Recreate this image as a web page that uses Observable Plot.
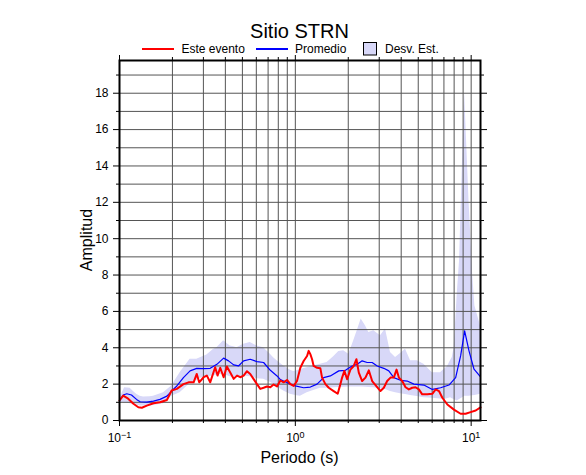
<!DOCTYPE html>
<html><head><meta charset="utf-8">
<script src="https://cdn.jsdelivr.net/npm/d3@7"></script>
<script src="https://cdn.jsdelivr.net/npm/@observablehq/plot@0.6"></script>
<style>
body{margin:0;background:#fff}
#chart{width:586px;height:475px}
</style></head>
<body><div id="chart"></div>
<script>
// Este evento (period s, amplitude)
const esteEvento = [[0.100,1.1],[0.105,1.37],[0.112,1.2],[0.120,0.92],[0.128,0.73],[0.134,0.7],[0.143,0.82],[0.156,0.95],[0.170,1.0],[0.186,1.13],[0.198,1.65],[0.212,1.74],[0.231,2.0],[0.247,2.1],[0.264,2.1],[0.275,2.56],[0.284,2.1],[0.301,2.38],[0.314,2.47],[0.328,2.1],[0.350,2.93],[0.361,2.47],[0.374,2.9],[0.391,2.38],[0.408,2.97],[0.431,2.56],[0.446,2.29],[0.466,2.47],[0.486,2.38],[0.508,2.47],[0.531,2.71],[0.554,2.56],[0.578,2.29],[0.605,2.0],[0.632,1.74],[0.660,1.8],[0.690,1.87],[0.721,1.83],[0.752,1.98],[0.787,1.87],[0.822,2.2],[0.858,2.1],[0.897,2.23],[0.937,2.0],[0.978,1.9],[1.022,2.17],[1.068,2.9],[1.115,3.27],[1.166,3.55],[1.191,3.83],[1.217,3.65],[1.245,3.37],[1.271,3.0],[1.329,2.9],[1.388,2.87],[1.419,2.36],[1.483,2.0],[1.549,1.8],[1.652,1.62],[1.742,1.47],[1.804,2.0],[1.845,2.36],[1.901,2.73],[1.970,2.27],[2.057,2.8],[2.149,3.0],[2.226,3.37],[2.296,2.63],[2.399,2.17],[2.505,2.36],[2.617,2.76],[2.735,2.17],[2.857,1.95],[3.050,1.62],[3.186,1.8],[3.328,2.17],[3.477,2.36],[3.632,2.36],[3.763,2.8],[3.880,2.36],[4.053,2.17],[4.234,1.83],[4.423,1.71],[4.621,1.8],[4.827,1.83],[5.042,1.71],[5.267,1.44],[5.630,1.44],[6.014,1.47],[6.282,1.71],[6.562,1.62],[6.855,1.25],[7.32,0.88],[7.98,0.6],[8.71,0.37],[9.30,0.37],[9.93,0.46],[10.61,0.55],[11.3,0.72]];
// Promedio
const promedio = [[0.100,1.1],[0.105,1.4],[0.110,1.47],[0.117,1.4],[0.125,1.16],[0.131,1.03],[0.143,1.01],[0.156,1.07],[0.170,1.16],[0.186,1.34],[0.198,1.62],[0.212,1.9],[0.231,2.36],[0.252,2.73],[0.275,2.87],[0.301,2.85],[0.328,2.87],[0.358,3.09],[0.391,3.43],[0.417,3.28],[0.446,3.06],[0.475,3.0],[0.508,3.28],[0.554,3.37],[0.605,3.24],[0.660,3.19],[0.721,2.76],[0.787,2.45],[0.822,2.25],[0.858,2.17],[0.937,2.0],[1.0,1.9],[1.115,1.8],[1.217,1.84],[1.329,2.0],[1.449,2.36],[1.582,2.45],[1.766,2.73],[1.927,2.76],[2.103,3.0],[2.249,3.09],[2.399,3.28],[2.562,3.19],[2.735,3.19],[2.921,3.0],[3.186,2.87],[3.401,2.73],[3.632,2.36],[3.965,2.21],[4.328,2.17],[4.722,2.0],[5.385,1.95],[6.014,1.71],[6.70,1.8],[7.48,1.95],[8.16,2.36],[8.71,3.55],[9.18,4.93],[9.72,3.83],[10.38,2.82],[11.3,2.4]];
// Desv. Est. band: [period, lower, upper]
const desvEst = [[0.100,1.0,1.2],[0.107,0.98,1.8],[0.115,0.92,1.77],[0.120,0.88,1.6],[0.125,0.85,1.44],[0.131,0.8,1.33],[0.137,0.8,1.29],[0.149,0.8,1.3],[0.156,0.82,1.34],[0.178,0.92,1.53],[0.198,1.34,1.9],[0.221,1.53,2.63],[0.252,2.03,3.37],[0.275,2.2,3.37],[0.288,2.32,3.45],[0.314,2.4,3.6],[0.342,2.45,3.9],[0.358,2.5,4.0],[0.391,2.54,4.38],[0.426,2.4,4.1],[0.446,2.36,4.05],[0.466,2.4,4.0],[0.508,2.45,4.2],[0.554,2.4,4.29],[0.578,2.36,4.2],[0.605,2.3,4.1],[0.660,2.27,4.0],[0.721,2.1,3.65],[0.752,2.0,3.45],[0.787,1.85,3.28],[0.858,1.62,3.0],[0.937,1.45,2.76],[0.978,1.4,2.7],[1.022,1.36,2.73],[1.068,1.34,2.8],[1.166,1.53,2.9],[1.271,1.65,3.0],[1.388,1.77,3.1],[1.515,1.78,3.19],[1.652,1.8,3.5],[1.766,1.82,3.8],[1.884,1.83,3.83],[2.013,1.84,3.65],[2.149,1.84,4.38],[2.249,1.84,4.93],[2.368,1.84,5.58],[2.505,1.83,5.21],[2.617,1.82,4.84],[2.794,1.8,4.93],[3.05,1.75,4.66],[3.257,1.7,5.03],[3.477,1.6,3.74],[3.715,1.52,3.46],[3.965,1.47,3.68],[4.234,1.43,3.92],[4.521,1.38,3.28],[4.934,1.32,3.28],[5.385,1.25,3.09],[6.014,1.22,2.63],[6.70,1.18,2.63],[7.00,1.16,2.8],[7.32,1.2,2.95],[7.64,1.25,3.3],[7.81,1.2,3.46],[8.0,1.15,4.0],[8.34,1.07,7.0],[8.59,1.15,8.8],[8.93,1.25,14.3],[9.18,1.34,18.0],[9.72,1.34,12.1],[10.2,1.36,8.0],[10.5,1.38,6.3],[11.3,1.44,5.2]];

const xMajor = [0.1, 1, 10];
const xMinor = [0.2,0.3,0.4,0.5,0.6,0.7,0.8,0.9,2,3,4,5,6,7,8,9];
const xTickLabels = ["−1", "0", "1"];
const yMajor = [0,2,4,6,8,10,12,14,16,18];
const yMinor = [1,3,5,7,9,11,13,15,17,19];
const yGrid = [1,2,3,4,5,6,7,8,9,10,11,12,13,14,15,16,17,18,19];

const FONT = "'Liberation Sans', Arial, Helvetica, sans-serif";
const bandFill = "#d8d8f8";
const gridColor = "#555";
const empty = () => "";

const chart = Plot.plot({
  width: 586, height: 475,
  marginLeft: 119, marginRight: 106, marginTop: 60, marginBottom: 55,
  x: {type: "log", domain: [0.1, 11.3]},
  y: {domain: [0, 19.8]},
  style: {fontFamily: FONT, fontSize: "12px", color: "black", background: "white", overflow: "visible"},
  marks: [
    Plot.areaY(desvEst, {x: d => d[0], y1: d => d[1], y2: d => d[2], fill: bandFill}),
    Plot.ruleX(xMajor.concat(xMinor).filter(v => v > 0.1), {stroke: gridColor, strokeWidth: 1}),
    Plot.ruleY(yGrid, {stroke: gridColor, strokeWidth: 1}),
    Plot.line(promedio, {x: d => d[0], y: d => d[1], stroke: "#0000ff", strokeWidth: 1.2}),
    Plot.line(esteEvento, {x: d => d[0], y: d => d[1], stroke: "#ff0000", strokeWidth: 2}),
    Plot.frame({stroke: "black", strokeWidth: 2}),
    Plot.axisY({anchor: "left", ticks: yMajor, tickSize: 6, tickPadding: 5, label: null, fontSize: 12}),
    Plot.axisY({anchor: "left", ticks: yMinor, tickSize: 3, tickFormat: empty, label: null}),
    Plot.axisY({anchor: "right", ticks: yMajor, tickSize: 6, tickFormat: empty, label: null}),
    Plot.axisY({anchor: "right", ticks: yMinor, tickSize: 3, tickFormat: empty, label: null}),
    Plot.axisX({anchor: "bottom", ticks: xMajor, tickSize: 6, tickPadding: 7, label: null, fontSize: 12,
      tickFormat: (d, i) => "10" + xTickLabels[xMajor.indexOf(d)]}),
    Plot.axisX({anchor: "bottom", ticks: xMinor, tickSize: 3, tickFormat: empty, label: null}),
    Plot.axisX({anchor: "top", ticks: xMajor, tickSize: 6, tickFormat: empty, label: null}),
    Plot.axisX({anchor: "top", ticks: xMinor, tickSize: 4, tickFormat: empty, label: null})
  ]
});
document.getElementById("chart").appendChild(chart);

const svg = d3.select(chart.tagName.toLowerCase() === "svg" ? chart : chart.querySelector("svg"));

// superscript exponents on x tick labels
svg.selectAll('g[aria-label="x-axis tick label"] text').each(function() {
  const t = this.textContent;
  if (!t || !t.startsWith("10")) return;
  const exp = t.slice(2);
  const sel = d3.select(this);
  sel.text("10");
  sel.append("tspan").attr("dy", "-0.45em").attr("font-size", "9px").text(exp);
});

const g = svg.append("g").attr("font-family", FONT).attr("fill", "black").attr("text-anchor", "start");
g.append("text").attr("x", 299.5).attr("y", 37.5).attr("text-anchor", "middle").attr("font-size", 20).text("Sitio STRN");
// legend
g.append("line").attr("x1", 142).attr("x2", 174).attr("y1", 49).attr("y2", 49).attr("stroke", "#ff0000").attr("stroke-width", 2);
g.append("text").attr("x", 181.5).attr("y", 53).attr("text-anchor", "start").attr("font-size", 12).text("Este evento");
g.append("line").attr("x1", 256).attr("x2", 288).attr("y1", 49).attr("y2", 49).attr("stroke", "#0000ff").attr("stroke-width", 2);
g.append("text").attr("x", 295).attr("y", 53).attr("text-anchor", "start").attr("font-size", 12).text("Promedio");
g.append("rect").attr("x", 363.5).attr("y", 42.5).attr("width", 13).attr("height", 12.5).attr("fill", bandFill).attr("stroke", "black").attr("stroke-width", 1);
g.append("text").attr("x", 385).attr("y", 53).attr("text-anchor", "start").attr("font-size", 12).text("Desv. Est.");
// axis titles
g.append("text").attr("x", 299.5).attr("y", 462.5).attr("text-anchor", "middle").attr("font-size", 16).text("Periodo (s)");
g.append("text").attr("transform", "translate(92,240) rotate(-90)").attr("text-anchor", "middle").attr("font-size", 16).text("Amplitud");
</script>
</body></html>
